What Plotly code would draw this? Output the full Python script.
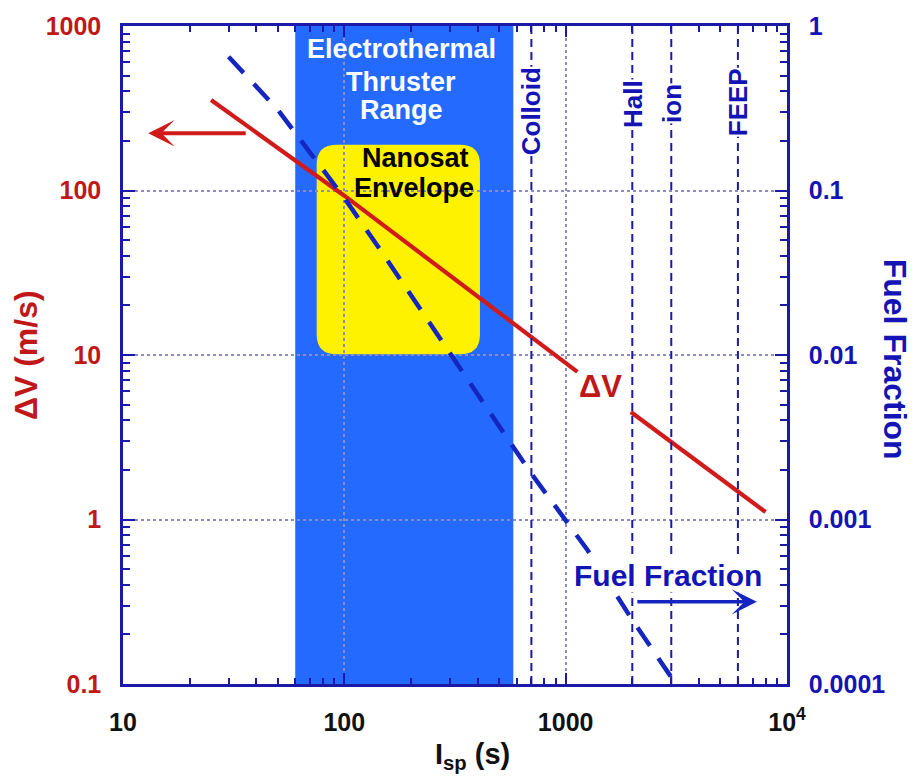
import math
import plotly.graph_objects as go

# ---------------- data ----------------
# Delta-V line (gap where the "ΔV" label sits)
isp_dv = [25, 100, 1130, None, 1970, 8000]
dv = [355, 93, 7.9, None, 4.5, 1.11]

# Fuel fraction curve (right axis)
isp_ff = [30, 40, 50, 70, 100, 150, 200, 300, 500, 700, 1000, 1257, 1500, 2000, 2500, 3000, 3300]
ff = [0.65, 0.43, 0.31, 0.17, 0.09, 0.041, 0.023, 0.0101, 0.0037, 0.0019,
      0.00099, 0.00065, 0.00045, 0.000245, 0.000158, 0.000110, 0.000091]

thrusters = ["Colloid", "Hall", "ion", "FEEP"]
thruster_isp = [700, 2000, 3000, 6000]
thruster_label_y = [0.871, 0.882, 0.882, 0.884]

electrothermal_range = [60, 580]
nanosat_isp = [75, 410]
nanosat_dv = [10.1, 190]

x_ticks = [10, 100, 1000, 10000]
x_ticktext = ["10", "100", "1000", "10<sup>4</sup>"]
y_ticks = [0.1, 1, 10, 100, 1000]
y_ticktext = ["0.1", "1", "10", "100", "1000"]
y2_ticks = [0.0001, 0.001, 0.01, 0.1, 1]
y2_ticktext = ["0.0001", "0.001", "0.01", "0.1", "1"]

# in-plot label lines
band_lines = ["Electrothermal", "Thruster", "Range"]
band_isp = [181, 181, 181]
band_dv = [726, 454, 310]
nano_lines = ["Nanosat", "Envelope"]
nano_isp = [209, 207]
nano_dv = [158, 103]

# ---------------- style ----------------
FONT = "Liberation Sans, Arial, sans-serif"
AXIS = "#1A1AA6"
RED = "#D11A1A"
REDTXT = "#C01818"
BLUE = "#1525C0"
BLUETXT = "#1414B4"
BAND = "#246AFF"
YELLOW = "#FFF200"
GRID = "#8C8CC0"

def minor_vals(lo, hi):
    out = []
    for d in range(lo, hi):
        for k in range(2, 10):
            out.append(k * 10 ** d)
    return out

fig = go.Figure()

fig.add_trace(go.Scatter(
    x=isp_ff, y=ff, yaxis="y2", mode="lines",
    line=dict(color=BLUE, width=4.5, dash="22px,15px"),
    hoverinfo="skip", showlegend=False))

fig.add_trace(go.Scatter(
    x=isp_dv, y=dv, mode="lines", connectgaps=False,
    line=dict(color=RED, width=4.2),
    hoverinfo="skip", showlegend=False))

shapes = []
shapes.append(dict(type="rect", xref="x", yref="paper",
                   x0=electrothermal_range[0], x1=electrothermal_range[1], y0=0, y1=1,
                   fillcolor=BAND, line=dict(width=0), layer="below"))
x0, x1 = nanosat_isp
y0, y1 = nanosat_dv
rx = 10 ** (20 / 221)
ry = 10 ** (20 / 166)
path = (f"M{x0*rx},{y0} L{x1/rx},{y0} Q{x1},{y0} {x1},{y0*ry} "
        f"L{x1},{y1/ry} Q{x1},{y1} {x1/rx},{y1} "
        f"L{x0*rx},{y1} Q{x0},{y1} {x0},{y1/ry} "
        f"L{x0},{y0*ry} Q{x0},{y0} {x0*rx},{y0} Z")
shapes.append(dict(type="path", xref="x", yref="y", path=path,
                   fillcolor=YELLOW, line=dict(width=0), layer="below"))
for v in thruster_isp:
    shapes.append(dict(type="line", xref="x", yref="paper", x0=v, x1=v, y0=0, y1=1,
                       line=dict(color=AXIS, width=2, dash="8px,5px"), layer="above"))

annotations = []
for name, v, yy in zip(thrusters, thruster_isp, thruster_label_y):
    annotations.append(dict(x=math.log10(v), y=yy, xref="x", yref="paper",
                            xanchor="center", yanchor="middle",
                            text=f"<b>{name}</b>", textangle=-90, showarrow=False,
                            font=dict(family=FONT, size=26, color=BLUETXT),
                            bgcolor="white", borderpad=0))

for t, xi, yi in zip(band_lines, band_isp, band_dv):
    annotations.append(dict(x=math.log10(xi), y=math.log10(yi), xref="x", yref="y",
                            text=f"<b>{t}</b>", showarrow=False,
                            xanchor="center", yanchor="middle",
                            font=dict(family=FONT, size=27, color="white")))
for t, xi, yi in zip(nano_lines, nano_isp, nano_dv):
    annotations.append(dict(x=math.log10(xi), y=math.log10(yi), xref="x", yref="y",
                            text=f"<b>{t}</b>", showarrow=False,
                            xanchor="center", yanchor="middle",
                            font=dict(family=FONT, size=27, color="black")))

annotations += [
    dict(x=math.log10(1440), y=math.log10(6.4), xref="x", yref="y",
         text="<b>ΔV</b>", showarrow=False, xanchor="center", yanchor="middle",
         font=dict(family=FONT, size=31, color=REDTXT)),
    dict(x=math.log10(2900), y=math.log10(4.54e-4), xref="x", yref="y2",
         text="<b>Fuel Fraction</b>", showarrow=False, xanchor="center", yanchor="middle",
         bgcolor="white", borderpad=0,
         font=dict(family=FONT, size=30, color=BLUETXT)),
    dict(x=math.log10(13), y=math.log10(223), xref="x", yref="y",
         ax=99, ay=0, text="", showarrow=True, arrowhead=3, arrowsize=1.1,
         arrowwidth=4, arrowcolor=RED),
    dict(x=math.log10(7310), y=math.log10(3.16e-4), xref="x", yref="y2",
         ax=-121, ay=0, text="", showarrow=True, arrowhead=3, arrowsize=1.2,
         arrowwidth=3.5, arrowcolor=BLUE),
    dict(x=-0.146, y=0.5, xref="paper", yref="paper", text="<b>ΔV (m/s)</b>",
         xanchor="center", yanchor="middle",
         textangle=-90, showarrow=False, font=dict(family=FONT, size=32, color=REDTXT)),
    dict(x=1.163, y=0.494, xref="paper", yref="paper", text="<b>Fuel Fraction</b>",
         xanchor="center", yanchor="middle",
         textangle=90, showarrow=False, font=dict(family=FONT, size=32, color=BLUETXT)),
    dict(x=0.526, y=-0.110, xref="paper", yref="paper", text="<b>I<sub>sp</sub> (s)</b>",
         xanchor="center", yanchor="middle",
         showarrow=False, font=dict(family=FONT, size=29, color="#111111")),
]

common = dict(type="log", showline=True, linecolor=AXIS, linewidth=2.5,
              ticks="inside", tickcolor=AXIS, tickwidth=2, zeroline=False)

fig.update_layout(
    width=912, height=783,
    margin=dict(l=123, r=125, t=20, b=99, pad=0),
    paper_bgcolor="white", plot_bgcolor="white",
    shapes=shapes, annotations=annotations,
    showlegend=False, hovermode=False,
    xaxis=dict(**common, range=[1, 4], mirror="ticks", ticklen=11,
               tickvals=x_ticks, ticktext=[f"<b>{t}</b>" for t in x_ticktext],
               tickfont=dict(family=FONT, size=25, color="#111111"),
               ticklabelstandoff=14,
               showgrid=True, gridcolor=GRID, griddash="dot", gridwidth=1.5,
               minor=dict(ticks="inside", ticklen=6, tickwidth=2, tickcolor=AXIS,
                          tickvals=minor_vals(1, 4), showgrid=False)),
    yaxis=dict(**common, range=[-1, 3], ticklen=12,
               tickvals=y_ticks, ticktext=[f"<b>{t}</b>" for t in y_ticktext],
               tickfont=dict(family=FONT, size=25, color=REDTXT),
               ticklabelstandoff=14,
               showgrid=True, gridcolor=GRID, griddash="dot", gridwidth=1.5,
               minor=dict(ticks="inside", ticklen=7, tickwidth=2, tickcolor=AXIS,
                          tickvals=minor_vals(-1, 3), showgrid=False)),
    yaxis2=dict(**common, range=[-4, 0], overlaying="y", side="right", ticklen=12,
                tickvals=y2_ticks, ticktext=[f"<b>{t}</b>" for t in y2_ticktext],
                tickfont=dict(family=FONT, size=25, color=BLUETXT),
                ticklabelstandoff=14, showgrid=False,
                minor=dict(ticks="inside", ticklen=7, tickwidth=2, tickcolor=AXIS,
                           tickvals=minor_vals(-4, 0), showgrid=False)),
)

fig.write_html("out.html", config={"displayModeBar": False})
